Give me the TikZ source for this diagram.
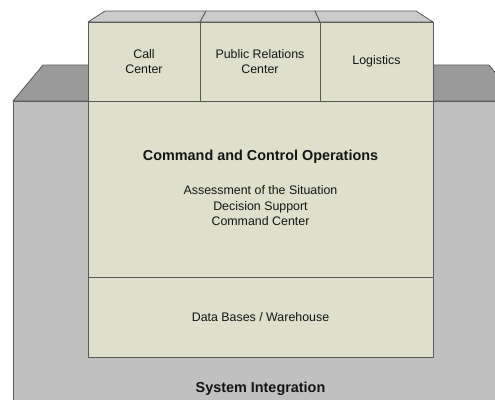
\documentclass[tikz,border=0pt]{standalone}
\usepackage{fontspec}
\setmainfont{Liberation Sans}
\definecolor{beige}{HTML}{DEE0CB}
\definecolor{frontgray}{HTML}{C0C0C0}
\definecolor{topdark}{HTML}{9A9A9A}
\definecolor{toplight}{HTML}{CBCBCB}
\definecolor{edge}{HTML}{5A5A5A}
\begin{document}
\begin{tikzpicture}[x=1pt,y=-1pt,
  every node/.style={font=\fontsize{12.4}{15.5}\selectfont, text=black!92, align=center},
  box/.style={draw=edge, fill=beige, line width=0.8pt, inner sep=0pt},
  face/.style={draw=edge, line width=0.8pt, line join=round}]
\useasboundingbox (0,0) rectangle (495,399);
\begin{scope}
\clip (0,0) rectangle (495,399);
% base block
\draw[face, fill=topdark] (13,101) -- (43,65) -- (489,65) -- (519,101) -- cycle;
\draw[face, fill=frontgray] (13,101) rectangle (540,430);
% top faces of upper boxes
\draw[face, fill=toplight] (88,22) -- (105,11) -- (206,11) -- (200,22) -- cycle;
\draw[face, fill=toplight] (200,22) -- (206,11) -- (315,11) -- (320,22) -- cycle;
\draw[face, fill=toplight] (320,22) -- (315,11) -- (416,11) -- (433,22) -- cycle;
\end{scope}
% boxes
\node[box, minimum width=112pt, minimum height=79pt] (call) at (144,61.5) {Call\\Center};
\node[box, minimum width=120pt, minimum height=79pt] (pr) at (260,61.5) {Public Relations\\Center};
\node[box, minimum width=113pt, minimum height=79pt] (log) at (376.5,61.5) {Logistics};
\node[box, minimum width=345pt, minimum height=176pt] (cc) at (260.5,189) {};
\node[box, minimum width=345pt, minimum height=80pt] (db) at (260.5,317) {Data Bases / Warehouse};
% texts
\node[font=\fontsize{14.4}{17}\selectfont\bfseries] (cctitle) at (260.5,157) {Command and Control Operations};
\node (ccitems) at (260.5,206) {Assessment of the Situation\\Decision Support\\Command Center};
\node[font=\fontsize{14.4}{17}\selectfont\bfseries] (si) at (260.5,389) {System Integration};
\end{tikzpicture}
\end{document}
